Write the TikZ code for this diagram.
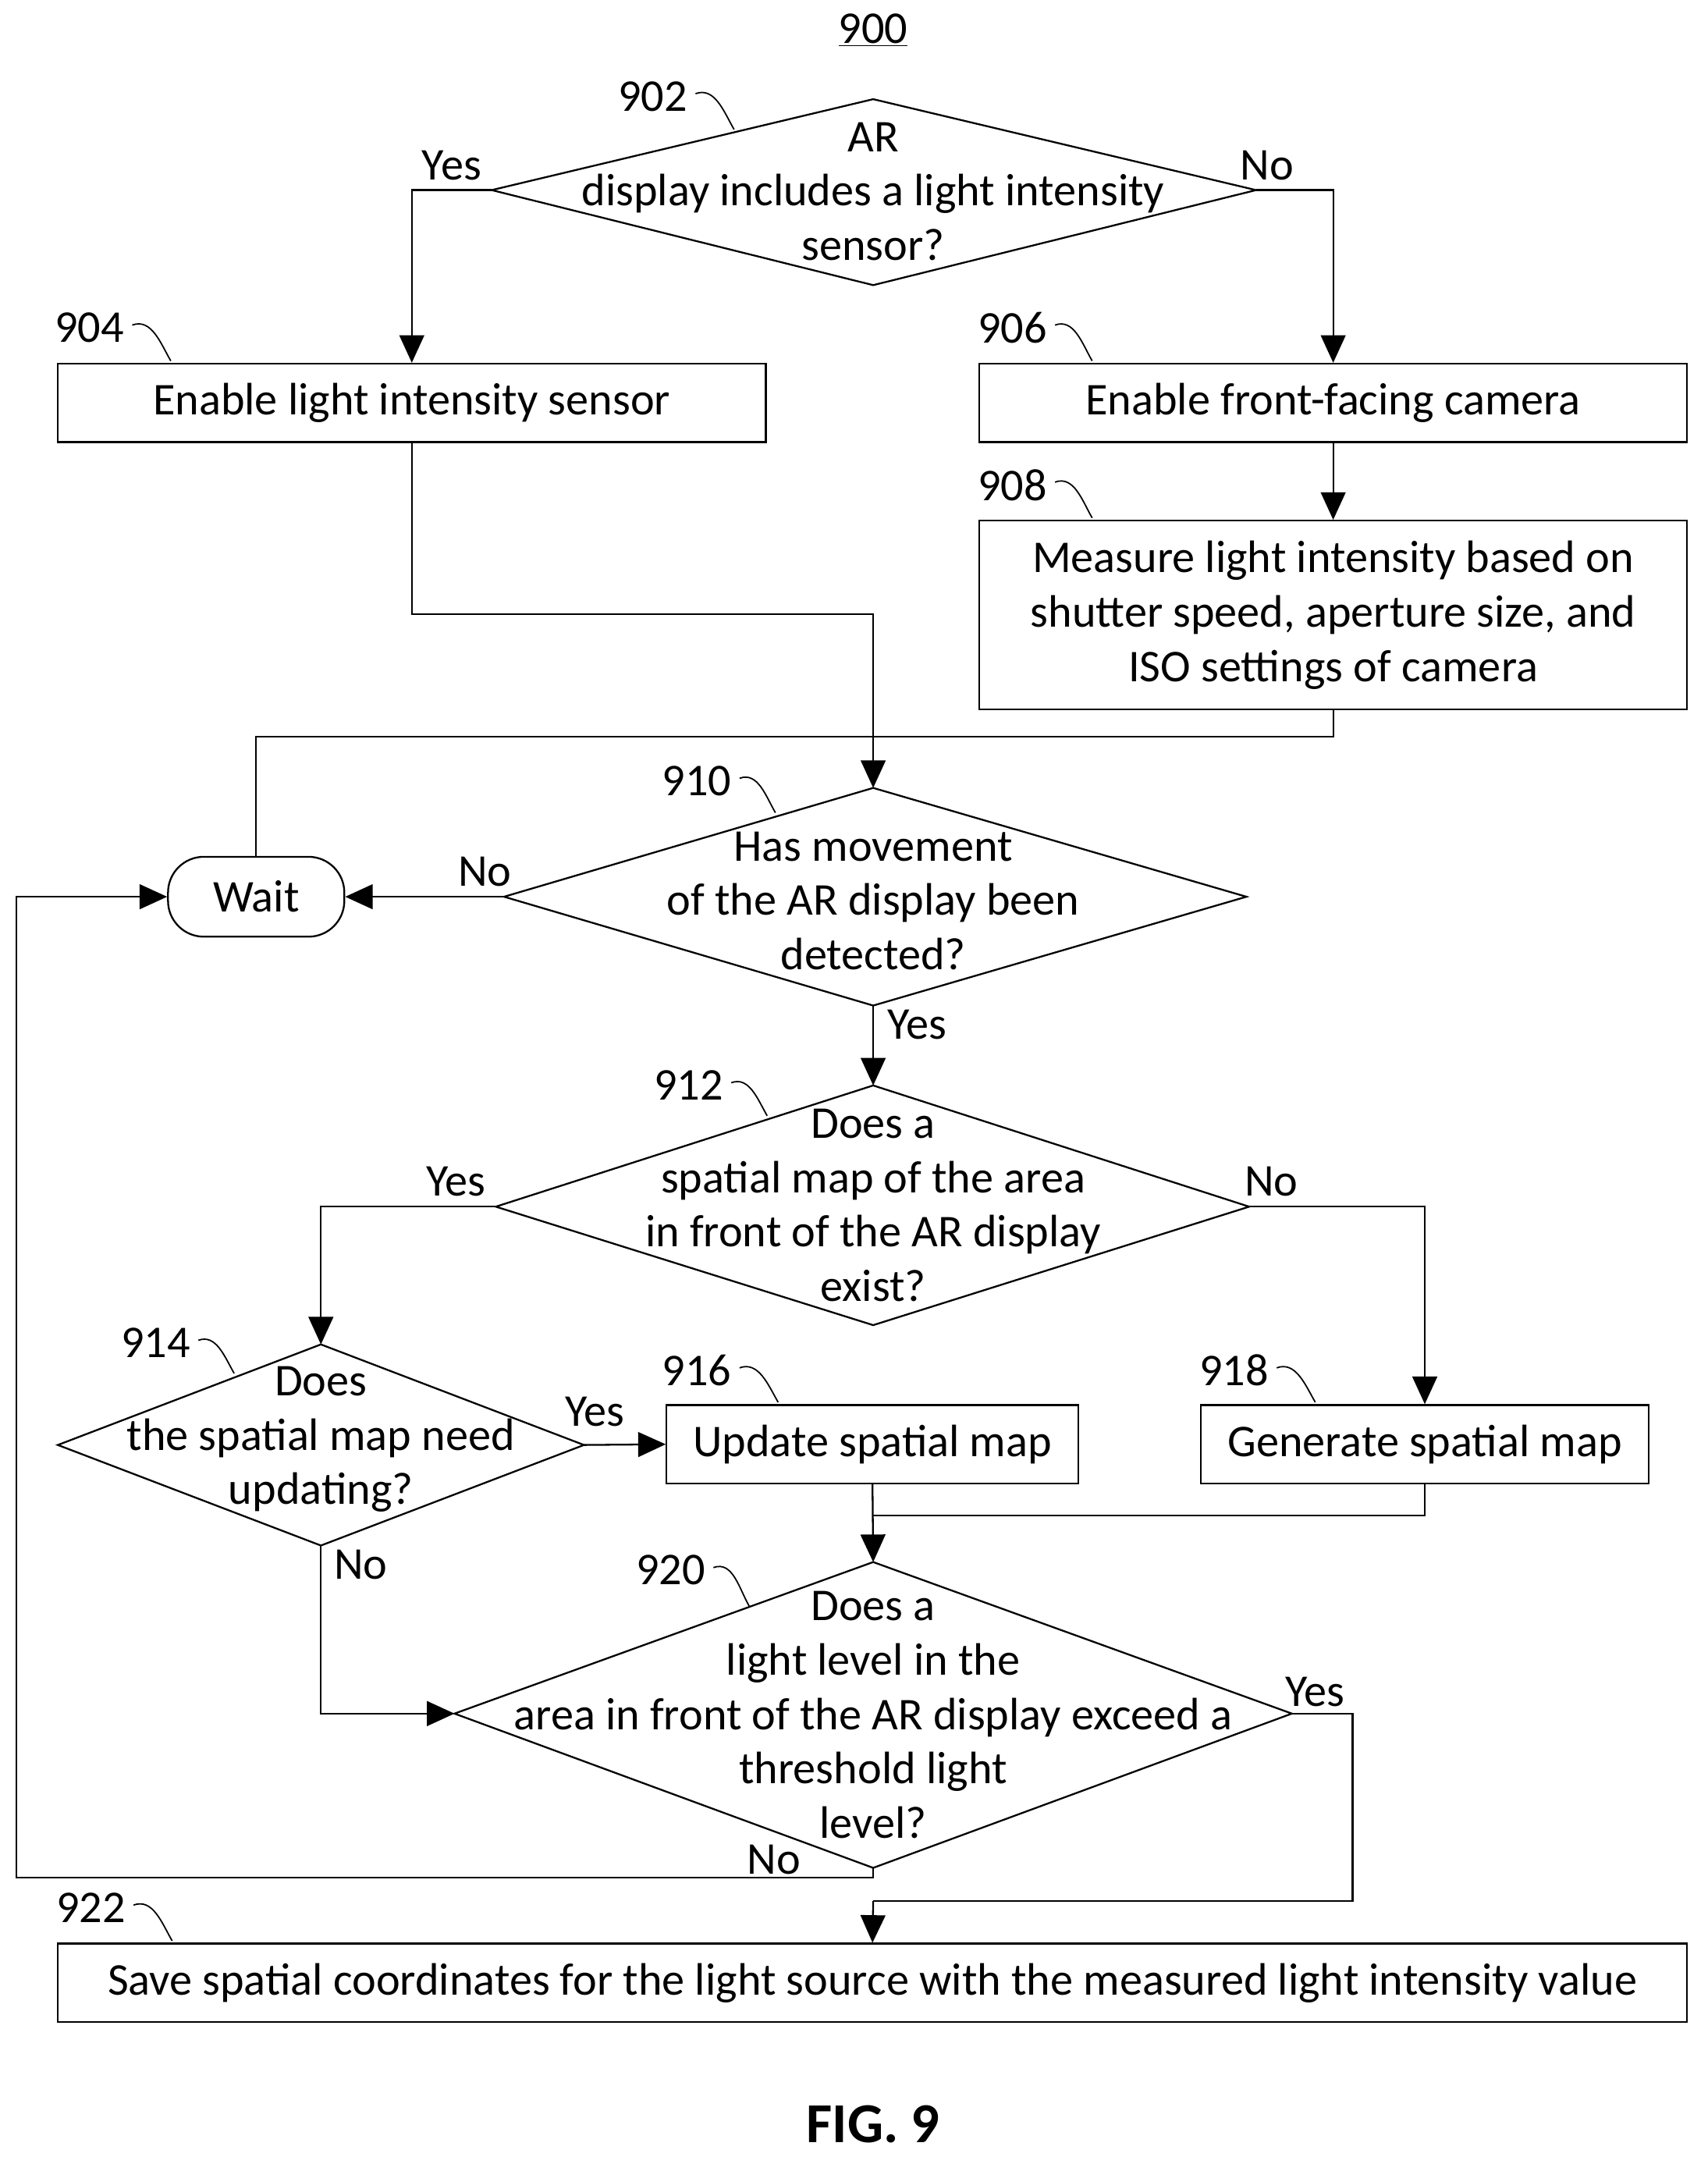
\documentclass[tikz,border=0pt]{standalone}
\usepackage{fontspec}
\setmainfont{Carlito}
\usetikzlibrary{arrows.meta}
\begin{document}
\begin{tikzpicture}[x=1pt,y=-1pt,
  every node/.style={font=\fontsize{33}{39.5}\selectfont},
  ln/.style={line width=1.3pt},
  arr/.style={ln,-{Triangle[length=20pt,width=18pt]}},
  lbl/.style={inner sep=1pt},
  txt/.style={align=center,inner sep=0pt},
  sq/.style={line width=1pt}]
\useasboundingbox (0,0) rectangle (1240,1571);
\node[lbl] (t900) at (634,22) {\underline{900}};
% diamonds
\coordinate (a1) at (357,138); \coordinate (a2) at (634,72); \coordinate (a3) at (912,138); \coordinate (a4) at (634,207);
\draw[ln] (a1)--(a2)--(a3)--(a4)--cycle;
\node[txt] (d902) at (634,139) {AR\\display includes a light intensity\\sensor?};
\coordinate (b1) at (366,651); \coordinate (b2) at (634,572); \coordinate (b3) at (905,651); \coordinate (b4) at (634,730);
\draw[ln] (b1)--(b2)--(b3)--(b4)--cycle;
\node[txt] (d910) at (634,654) {Has movement\\of the AR display been\\detected?};
\coordinate (c1) at (360,876); \coordinate (c2) at (634,788); \coordinate (c3) at (907,876); \coordinate (c4) at (634,962);
\draw[ln] (c1)--(c2)--(c3)--(c4)--cycle;
\node[txt] (d912) at (634,875) {Does a\\spatial map of the area\\in front of the AR display\\exist?};
\coordinate (e1) at (42,1049); \coordinate (e2) at (233,976); \coordinate (e3) at (424,1049); \coordinate (e4) at (233,1122);
\draw[ln] (e1)--(e2)--(e3)--(e4)--cycle;
\node[txt] (d914) at (233,1045) {Does\\the spatial map need\\updating?};
\coordinate (f1) at (330,1244); \coordinate (f2) at (634,1134); \coordinate (f3) at (938,1244); \coordinate (f4) at (634,1356);
\draw[ln] (f1)--(f2)--(f3)--(f4)--cycle;
\node[txt] (d920) at (634,1245) {Does a\\light level in the\\area in front of the AR display exceed a\\threshold light\\level?};
% boxes
\node[draw,ln,minimum width=514pt,minimum height=57pt] (b904) at (299,292.5) {Enable light intensity sensor};
\node[draw,ln,minimum width=514pt,minimum height=57pt] (b906) at (968,292.5) {Enable front-facing camera};
\node[draw,ln,minimum width=514pt,minimum height=137pt,align=center] (b908) at (968,446.5) {Measure light intensity based on\\shutter speed, aperture size, and\\ISO settings of camera};
\node[draw,ln,rounded corners=26pt,minimum width=128pt,minimum height=58pt] (wait) at (186,651) {Wait};
\node[draw,ln,minimum width=299pt,minimum height=57pt] (b916) at (633.5,1048.5) {Update spatial map};
\node[draw,ln,minimum width=325pt,minimum height=57pt] (b918) at (1034.5,1048.5) {Generate spatial map};
\node[draw,ln,minimum width=1183pt,minimum height=57pt] (b922) at (633.5,1439.5) {Save spatial coordinates for the light source with the measured light intensity value};
% connectors
\draw[arr] (a1) -| (b904.north);
\draw[arr] (a3) -| (b906.north);
\draw[arr] (b906.south) -- (b908.north);
\coordinate (j1) at (634,446);
\draw[arr] (b904.south) |- (j1) -- (b2);
\coordinate (j2) at (968,535);
\draw[ln] (b908.south) -- (j2) -| (wait.north);
\draw[arr] (b1) -- (wait.east);
\draw[arr] (b4) -- (c2);
\draw[arr] (c1) -| (e2);
\draw[arr] (c3) -| (b918.north);
\draw[arr] (e3) -- (b916.west);
\draw[arr] (b916.south) -- (f2);
\coordinate (j3) at (634,1100);
\draw[ln] (b918.south) |- (j3);
\draw[arr] (e4) |- (f1);
\coordinate (j4) at (982,1380); \coordinate (j5) at (634,1380);
\draw[ln] (f3) -- (982,1244) -- (j4) -- (j5);
\draw[arr] (j5) -- (b922.north);
\coordinate (j6) at (12,1363);
\draw[arr] (f4) -- (634,1363) -- (j6) |- (wait.west);
% yes/no
\node (y1) at (328,120) {Yes}; \node (n1) at (920,120) {No};
\node (n2) at (352,633) {No}; \node (y2) at (666,744) {Yes};
\node (y3) at (331,858) {Yes}; \node (n3) at (923,858) {No};
\node (y4) at (432,1025) {Yes}; \node (n4) at (262,1136) {No};
\node (y5) at (955,1228) {Yes}; \node (n5) at (562,1350) {No};
% ref labels
\node (r902) at (474,70) {902}; \draw[sq] (505,68) to[out=20,in=120] (533,94);
\node (r904) at (65,238) {904}; \draw[sq] (96,236) to[out=20,in=120] (124,262);
\node (r906) at (735,238) {906}; \draw[sq] (766,236) to[out=20,in=120] (793,262);
\node (r908) at (735,352) {908}; \draw[sq] (766,350) to[out=20,in=120] (793,376);
\node (r910) at (506,567) {910}; \draw[sq] (537,565) to[out=20,in=120] (563,590);
\node (r912) at (500,788) {912}; \draw[sq] (531,786) to[out=20,in=120] (557,810);
\node (r914) at (113,975) {914}; \draw[sq] (144,973) to[out=20,in=120] (170,997);
\node (r916) at (506,995) {916}; \draw[sq] (537,993) to[out=20,in=120] (565,1018);
\node (r918) at (896,995) {918}; \draw[sq] (927,993) to[out=20,in=120] (955,1018);
\node (r920) at (487,1140) {920}; \draw[sq] (518,1138) to[out=20,in=120] (544,1166);
\node (r922) at (66,1385) {922}; \draw[sq] (97,1383) to[out=20,in=120] (125,1409);
\node[font=\fontsize{41}{48}\selectfont\bfseries] (fig) at (634,1542) {FIG. 9};
\end{tikzpicture}
\end{document}
